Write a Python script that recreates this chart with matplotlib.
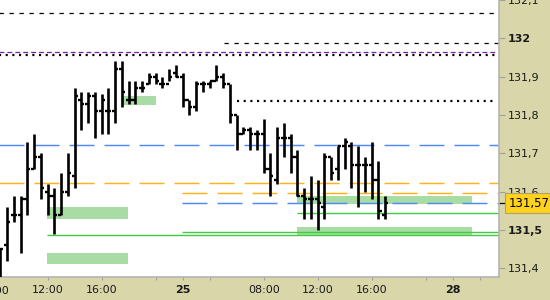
import numpy as np
import matplotlib
matplotlib.use("Agg")
import matplotlib.pyplot as plt
import matplotlib.transforms as mtransforms
from matplotlib.patches import Rectangle

plt.rcParams['font.family'] = ['DejaVu Sans']
plt.rcParams['lines.scale_dashes'] = False

# 30 minute OHLC bars (x = bar index)
opens = [131.40, 131.46, 131.54, 131.54, 131.58, 131.66, 131.69, 131.60, 131.59, 131.54,
         131.60, 131.64, 131.84, 131.83, 131.85, 131.81, 131.81, 131.81, 131.92, 131.84,
         131.84, 131.87, 131.88, 131.90, 131.88, 131.88, 131.91, 131.90, 131.84, 131.82,
         131.88, 131.88, 131.89, 131.90, 131.88, 131.80, 131.75, 131.76, 131.75, 131.75,
         131.66, 131.63, 131.74, 131.74, 131.69, 131.59, 131.58, 131.58, 131.56, 131.69,
         131.66, 131.72, 131.72, 131.67, 131.67, 131.67, 131.63, 131.54]
highs = [131.45, 131.56, 131.59, 131.59, 131.73, 131.75, 131.70, 131.62, 131.61, 131.65,
         131.70, 131.87, 131.86, 131.86, 131.86, 131.855, 131.87, 131.94, 131.94, 131.89,
         131.89, 131.89, 131.91, 131.91, 131.90, 131.92, 131.93, 131.91, 131.84, 131.89,
         131.89, 131.89, 131.93, 131.91, 131.88, 131.80, 131.77, 131.77, 131.76, 131.79,
         131.70, 131.77, 131.78, 131.75, 131.71, 131.61, 131.64, 131.63, 131.70, 131.69,
         131.72, 131.74, 131.73, 131.72, 131.69, 131.73, 131.68, 131.59]
lows = [131.36, 131.42, 131.52, 131.44, 131.54, 131.66, 131.58, 131.54, 131.49, 131.54,
        131.59, 131.61, 131.76, 131.78, 131.74, 131.75, 131.75, 131.78, 131.82, 131.83,
        131.83, 131.86, 131.88, 131.88, 131.87, 131.89, 131.90, 131.82, 131.80, 131.81,
        131.86, 131.87, 131.89, 131.87, 131.78, 131.71, 131.75, 131.71, 131.71, 131.65,
        131.59, 131.62, 131.69, 131.65, 131.59, 131.53, 131.53, 131.50, 131.53, 131.63,
        131.63, 131.66, 131.61, 131.56, 131.60, 131.58, 131.53, 131.53]
closes = [131.45, 131.52, 131.54, 131.58, 131.66, 131.69, 131.61, 131.59, 131.54, 131.60,
          131.65, 131.85, 131.83, 131.85, 131.81, 131.84, 131.81, 131.92, 131.86, 131.84,
          131.87, 131.87, 131.90, 131.89, 131.88, 131.90, 131.90, 131.84, 131.82, 131.88,
          131.88, 131.89, 131.90, 131.88, 131.80, 131.75, 131.76, 131.75, 131.75, 131.66,
          131.64, 131.74, 131.74, 131.69, 131.59, 131.58, 131.58, 131.57, 131.69, 131.65,
          131.72, 131.73, 131.67, 131.67, 131.67, 131.63, 131.55, 131.57]
last_price = 131.57

# support / resistance levels: (price, start bar)
black_dash_levels = [(132.065, -1), (131.987, 33.1)]
purple_dash_levels = [(131.965, -1)]
black_dot_levels = [(131.956, -1), (131.836, 35)]
blue_dash_levels = [(131.722, -1), (131.571, 26.9)]
orange_dash_levels = [(131.623, -1), (131.597, 26.9)]
green_levels = [(131.488, 6.9), (131.494, 26.9), (131.545, 43.9)]

# zones: (start bar, end bar, low, high)
zones = [(6.9, 18.9, 131.528, 131.559),
         (6.9, 18.9, 131.411, 131.440),
         (18.1, 23.0, 131.827, 131.850),
         (43.9, 69.9, 131.569, 131.590),
         (43.9, 69.9, 131.488, 131.508)]

y_ticks = [131.4, 131.5, 131.6, 131.7, 131.8, 131.9, 132.0, 132.1]
y_labels = ['131,4', '131,5', '131,6', '131,7', '131,8', '131,9', '132', '132,1']
x_major = [7, 15, 27, 39, 47, 55, 67]
x_major_labels = ['12:00', '16:00', '25', '08:00', '12:00', '16:00', '28']
x_minor = [23, 31, 63, 71]

bg = '#d9d7aa'
fig = plt.figure(figsize=(5.5, 3), dpi=100)
fig.patch.set_facecolor(bg)
ax = fig.add_axes([0, 23 / 300, 499 / 550, 277 / 300])
ax.set_facecolor('white')
x_right = 73.85
ax.set_xlim(-0.05, x_right)
ax.set_ylim(131.3774, 132.0969)

# zones
for x0, x1, lo, hi in zones:
    ax.add_patch(Rectangle((x0, lo), x1 - x0, hi - lo, color='#a8dca4', lw=0, zorder=1))

# level lines
line_end = 73.3
for p, s in black_dash_levels:
    ax.hlines(p, s, x_right, color='black', lw=0.9, linestyles=(0, (3.1, 4.1)), zorder=2)
for p, s in purple_dash_levels:
    ax.hlines(p, s, line_end, color='#7a1fa8', lw=0.9, linestyles=(0, (3.5, 2.2)), zorder=2)
for p, s in black_dot_levels:
    ax.hlines(p, s, line_end, color='black', lw=1.6, linestyles=(0, (1.5, 3.3)), zorder=2)
for p, s in blue_dash_levels:
    ax.hlines(p, s, x_right, color='#4f8af5', lw=1.05, linestyles=(0, (18, 7.2)), zorder=2)
for p, s in orange_dash_levels:
    ax.hlines(p, s, x_right, color='#ffb31a', lw=1.05, linestyles=(0, (18, 7.2)), zorder=2)
for p, s in green_levels:
    ax.hlines(p, s, x_right, color='#3fcc3f', lw=1.0, zorder=2)

# OHLC bars
idx = np.arange(len(opens))
ax.vlines(idx, lows, highs, color='black', lw=1.9, zorder=3)
ax.hlines(opens, idx - 0.45, idx, color='black', lw=1.7, zorder=3)
ax.hlines(closes, idx, idx + 0.45, color='black', lw=1.7, zorder=3)

# axes styling
for side in ['left', 'top']:
    ax.spines[side].set_visible(False)
for side in ['right', 'bottom']:
    ax.spines[side].set_color('#b4b4b4')
    ax.spines[side].set_linewidth(1.2)

ax.yaxis.tick_right()
ax.set_yticks(y_ticks)
ax.set_yticklabels(y_labels)
ax.tick_params(axis='y', length=4.3, width=0.8, color='#a0a0a0', pad=2, labelsize=8, labelcolor='#1a1a1a')
for lab in ax.get_yticklabels():
    if lab.get_text() in ('132', '131,5'):
        lab.set_fontweight('bold')

ax.set_xticks(x_major)
ax.set_xticklabels(x_major_labels)
ax.set_xticks(x_minor, minor=True)
ax.tick_params(axis='x', which='both', length=2.5, width=0.8, color='#a0a0a0', pad=3, labelsize=8, labelcolor='#1a1a1a')
for lab in ax.get_xticklabels():
    if lab.get_text() in ('25', '28'):
        lab.set_fontweight('bold')

# cut-off label at the left edge
trans = mtransforms.blended_transform_factory(ax.transData, ax.transAxes)
ax.text(-1, -0.052, '08:00', transform=trans, ha='center', va='center', fontsize=8,
        color='#1a1a1a', clip_on=False)

# last price marker
ytrans = mtransforms.blended_transform_factory(ax.transAxes, ax.transData)
ax.plot([1.0, 1.01], [last_price, last_price], color='black', lw=0.9, transform=ytrans, clip_on=False)
ax.text(1.02, last_price, '131,57', transform=ytrans, ha='left', va='center', fontsize=8.5,
        color='black', clip_on=False,
        bbox=dict(boxstyle='square,pad=0.3', facecolor='#ffd21e', edgecolor='#b0a070', lw=0.8))

fig.savefig('out.png', dpi=100, facecolor=bg)
